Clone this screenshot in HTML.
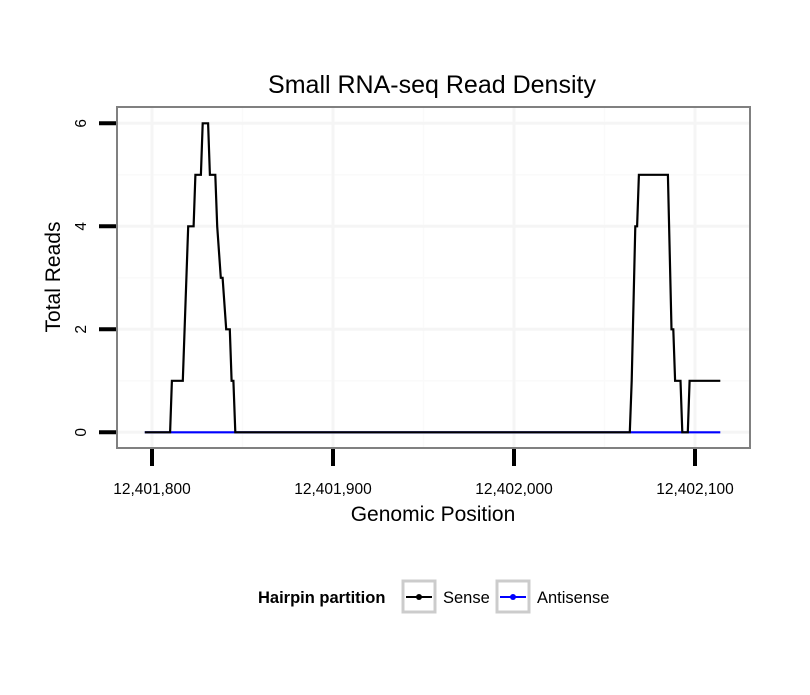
<!DOCTYPE html>
<html><head><meta charset="utf-8"><style>
body{margin:0;background:#fff;}
svg text{font-family:"Liberation Sans",sans-serif;}
</style></head><body>
<svg id="chart" width="810" height="690" xmlns="http://www.w3.org/2000/svg">
<rect width="810" height="690" fill="#fff"/>
<text x="432" y="93" font-size="25" text-anchor="middle">Small RNA-seq Read Density</text>
<g id="grid"></g>
<g id="series"></g>
<rect x="117" y="107" width="633" height="341" fill="none" stroke="#808080" stroke-width="2"/>
<g id="axes"></g>
<text x="433" y="521" font-size="21" text-anchor="middle">Genomic Position</text>
<text transform="translate(60,277) rotate(-90)" font-size="21" text-anchor="middle">Total Reads</text>
<g>
<text x="258" y="603" font-size="16.5" font-weight="bold">Hairpin partition</text>
<g>
<rect x="403" y="581" width="32" height="31" fill="#fff" stroke="#ccc" stroke-width="3"/>
<line x1="406" y1="597" x2="432" y2="597" stroke="#000" stroke-width="2"/>
<circle cx="419" cy="597" r="3" fill="#000"/>
<text x="443" y="603" font-size="16.5">Sense</text>
</g>
<g>
<rect x="497" y="581" width="32" height="31" fill="#fff" stroke="#ccc" stroke-width="3"/>
<line x1="500" y1="597" x2="526" y2="597" stroke="#0000ff" stroke-width="2"/>
<circle cx="513" cy="597" r="3" fill="#0000ff"/>
<text x="537" y="603" font-size="16.5">Antisense</text>
</g>
</g>
</svg>
<script>
const xTicks = [12401800, 12401900, 12402000, 12402100];
const xTickLabels = ["12,401,800", "12,401,900", "12,402,000", "12,402,100"];
const xMinor = [12401850, 12401950, 12402050];
const yTicks = [0, 2, 4, 6];
const yMinor = [1, 3, 5];
const sensePos = [12401796,12401810,12401811,12401817,12401820,12401823,12401824,12401827,12401828,12401831,12401832,12401835,12401836,12401838,12401839,12401841,12401843,12401844,12401845,12401846,12402064,12402065,12402067,12402068,12402069,12402085,12402087,12402088,12402089,12402092,12402093,12402096,12402097,12402114];
const senseVal = [0,0,1,1,4,4,5,5,6,6,5,5,4,3,3,2,2,1,1,0,0,1,4,4,5,5,2,2,1,1,0,0,1,1];
const antiPos = [12401796, 12402114];
const antiVal = [0, 0];

const NS = "http://www.w3.org/2000/svg";
function X(v){ return 152 + (v - 12401800) * 1.81; }
function Y(v){ return 432.3 - v * 51.5; }
function mk(tag, attrs, parent){ const e=document.createElementNS(NS,tag); for(const k in attrs) e.setAttribute(k,attrs[k]); parent.appendChild(e); return e; }
const grid=document.getElementById('grid'), axes=document.getElementById('axes'), series=document.getElementById('series');
xMinor.forEach(v=>{ const l=mk('line',{x1:X(v),x2:X(v),y1:108,y2:447,stroke:'#fafafa','stroke-width':1.5},grid);

 });
yMinor.forEach(v=>{ const l=mk('line',{x1:118,x2:749,y1:Y(v),y2:Y(v),stroke:'#fafafa','stroke-width':1.5},grid);

 });
xTicks.forEach(v=>{ const l=mk('line',{x1:X(v),x2:X(v),y1:108,y2:447,stroke:'#f5f5f5','stroke-width':3},grid);

 });
yTicks.forEach(v=>{ const l=mk('line',{x1:118,x2:749,y1:Y(v),y2:Y(v),stroke:'#f5f5f5','stroke-width':3},grid);

 });
function path(pos, val, color, name){
  const d = pos.map((p,i)=>(i?'L':'M')+X(p).toFixed(1)+','+Y(val[i]).toFixed(1)).join(' ');
  const p = mk('path',{d:d,fill:'none',stroke:color,'stroke-width':2.2,'stroke-linejoin':'miter'},series);
  
  
}
path(antiPos, antiVal, '#0000ff', 'antisense-line');
path(sensePos, senseVal, '#000000', 'sense-line');
xTicks.forEach((v,i)=>{
  const t=mk('line',{x1:X(v),x2:X(v),y1:449,y2:466,stroke:'#000','stroke-width':4},axes);
  
  
  const tx=mk('text',{x:X(v),y:494,'font-size':15.5,'text-anchor':'middle'},axes);
  tx.textContent=xTickLabels[i];
  
  
});
yTicks.forEach(v=>{
  const t=mk('line',{x1:99,x2:116,y1:Y(v),y2:Y(v),stroke:'#000','stroke-width':4},axes);
  
  
  const tx=mk('text',{transform:'translate(86,'+Y(v)+') rotate(-90)','font-size':15.5,'text-anchor':'middle'},axes);
  tx.textContent=String(v);
  
  
});
</script>
</body></html>
